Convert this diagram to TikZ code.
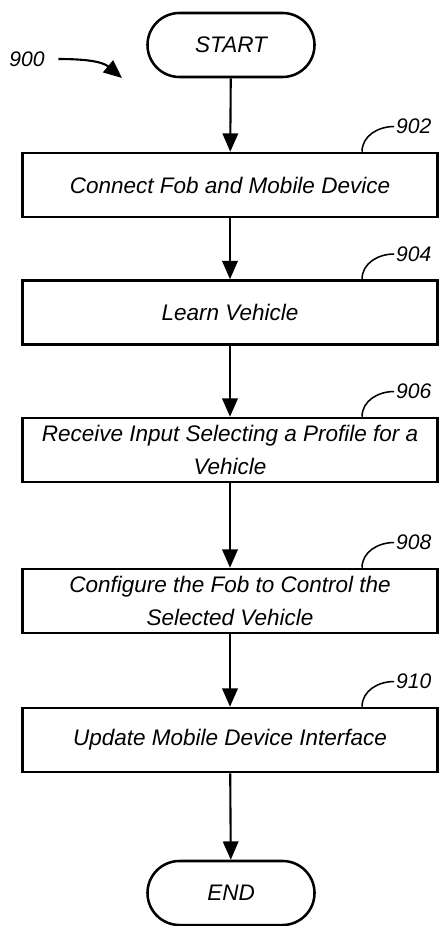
\documentclass[tikz,border=0pt]{standalone}
\usepackage{fontspec}
\setmainfont{Liberation Sans}
\usetikzlibrary{shapes,arrows.meta}
\tikzstyle{process} = [rectangle, minimum width=10.375cm, minimum height=1.6cm, draw=black, line width=1.8pt, align=center, font=\fontsize{16}{23}\selectfont\itshape]
\tikzstyle{terminal} = [rectangle, rounded corners=0.8cm, minimum width=4.175cm, minimum height=1.6cm, draw=black, line width=1.8pt, font=\fontsize{16}{23}\selectfont\itshape]
\tikzstyle{arrow} = [line width=1.5pt, -{Triangle[length=13pt,width=11pt]}]
\tikzstyle{leader} = [line width=1.1pt]
\tikzstyle{ref} = [font=\fontsize{15}{15}\selectfont\itshape, inner sep=1pt, anchor=west]

\begin{document}
\begin{tikzpicture}[x=0.025cm, y=-0.025cm]
        \useasboundingbox (0,0) rectangle (440,926);

        \node (start) [terminal] at (231,45) {START};
        \node (902) [process] at (230,185) {Connect Fob and Mobile Device};
        \node (904) [process] at (230,312.5) {Learn Vehicle};
        \node (906) [process] at (230,450) {Receive Input Selecting a Profile for a \\ Vehicle};
        \node (908) [process] at (230,601) {Configure the Fob to Control the \\ Selected Vehicle};
        \node (910) [process] at (230,740) {Update Mobile Device Interface};
        \node (end) [terminal] at (231,893) {END};

        \draw[arrow] (start) -- (902);
        \draw[arrow] (902) -- (904);
        \draw[arrow] (904) -- (906);
        \draw[arrow] (906) -- (908);
        \draw[arrow] (908) -- (910);
        \draw[arrow] (910) -- (end);

        % reference numerals
        \draw[leader] ([xshift=3.3cm]902.north) to[out=90,in=180] ++(0.8cm,0.63cm) node[ref] {902};
        \draw[leader] ([xshift=3.3cm]904.north) to[out=90,in=180] ++(0.8cm,0.63cm) node[ref] {904};
        \draw[leader] ([xshift=3.3cm]906.north) to[out=90,in=180] ++(0.8cm,0.63cm) node[ref] {906};
        \draw[leader] ([xshift=3.3cm]908.north) to[out=90,in=180] ++(0.8cm,0.63cm) node[ref] {908};
        \draw[leader] ([xshift=3.3cm]910.north) to[out=90,in=180] ++(0.8cm,0.63cm) node[ref] {910};

        \node (900) [ref, anchor=center] at (27,59) {900};
        \coordinate (tip900) at (122,78);
        \draw[arrow] ([xshift=0.3cm]900.east) to[out=0,in=140] (tip900);

    \end{tikzpicture}
\end{document}
